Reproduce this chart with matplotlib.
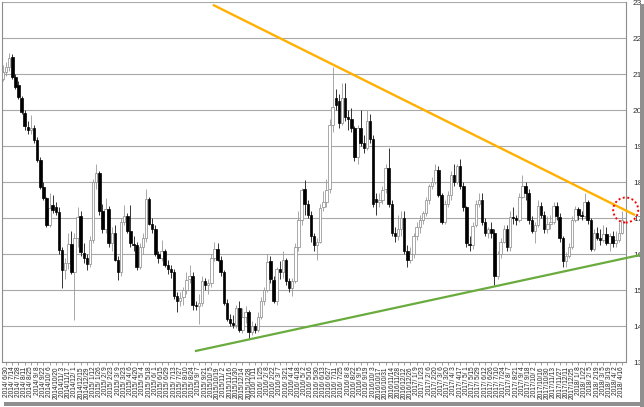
import matplotlib
matplotlib.use("Agg")
import matplotlib.pyplot as plt
from matplotlib.patches import Ellipse, Rectangle
import pandas as pd

# weekly candles, first week 2014/6/23 (labels start at 2014/6/30, every 2 weeks)
start_week = "2014-06-23"

opens = [20.87, 21.05, 21.20, 21.49, 20.93, 20.70, 20.33, 19.92, 19.55, 19.45,
         19.50, 19.18, 18.62, 17.88, 17.55, 16.81, 17.37, 17.32, 17.18, 16.12,
         15.55, 15.75, 16.30, 15.50, 16.45, 17.05, 16.05, 15.90, 15.72, 16.40,
         18.00, 18.25, 17.20, 16.70, 17.25, 16.30, 16.60, 15.85, 15.50, 16.90,
         17.05, 16.65, 16.30, 16.25, 15.66, 16.20, 16.45, 17.55, 16.85, 16.70,
         16.00, 15.90, 16.10, 15.70, 15.60, 15.50, 14.85, 14.70, 14.80, 15.00,
         15.30, 15.40, 14.60, 14.55, 14.65, 15.25, 15.15, 15.20, 15.90, 16.15,
         15.85, 15.50, 14.65, 14.20, 14.10, 14.05, 14.50, 13.90, 14.25, 14.40,
         13.85, 14.00, 13.90, 14.25, 14.70, 15.00, 15.80, 15.30, 14.70, 15.60,
         15.50, 15.85, 15.25, 15.05, 15.25, 16.20, 16.95, 17.80, 17.40, 17.10,
         16.50, 16.25, 16.35, 17.30, 17.45, 17.80, 19.60, 20.35, 20.25, 19.65,
         20.35, 19.80, 19.75, 19.50, 18.70, 19.50, 19.10, 18.95, 19.70, 19.20,
         17.55, 17.45, 17.50, 17.80, 18.40, 17.40, 16.60, 16.50, 16.70, 17.00,
         16.10, 15.85, 16.00, 16.50, 16.75, 16.95, 17.15, 17.50, 17.90, 18.00,
         18.35, 17.65, 16.90, 17.40, 17.65, 18.20, 18.00, 18.45, 17.90, 17.30,
         16.30, 16.25, 16.80, 17.40, 17.50, 16.90, 16.60, 16.70, 16.60, 15.40,
         16.00, 16.35, 16.70, 16.20, 17.05, 17.00, 16.95, 17.60, 17.90, 17.70,
         16.95, 16.65, 16.80, 17.35, 17.10, 16.70, 16.85, 16.90, 17.35, 17.05,
         16.45, 15.80, 15.95, 16.20, 16.95, 17.25, 17.10, 17.05, 17.45, 16.95,
         16.15, 16.60, 16.45, 16.40, 16.55, 16.30, 16.50, 16.30, 16.40, 16.60]

highs = [21.25, 21.35, 21.58, 21.55, 21.00, 20.80, 20.40, 20.00, 19.70, 19.87,
         19.60, 19.25, 18.70, 18.00, 17.60, 17.69, 17.65, 17.45, 17.30, 16.20,
         15.90, 16.60, 16.65, 16.60, 17.30, 17.20, 16.30, 16.00, 16.50, 18.10,
         18.51, 18.30, 17.40, 17.55, 17.35, 16.75, 16.80, 15.95, 17.00, 17.37,
         17.15, 17.37, 16.50, 16.35, 16.30, 16.60, 17.80, 17.60, 17.00, 16.80,
         16.10, 16.40, 16.15, 15.85, 15.70, 15.60, 14.95, 14.95, 15.10, 15.50,
         15.70, 15.50, 14.70, 14.90, 15.40, 15.35, 15.30, 16.00, 16.35, 16.30,
         15.95, 15.55, 14.75, 14.35, 14.30, 14.60, 14.70, 14.50, 14.55, 14.45,
         14.15, 14.10, 14.40, 14.80, 15.10, 16.00, 15.95, 15.40, 15.65, 15.80,
         16.10, 15.90, 15.35, 15.35, 16.30, 17.20, 17.85, 18.06, 17.50, 17.20,
         16.60, 16.45, 17.40, 17.75, 18.10, 19.75, 21.20, 20.60, 20.45, 20.75,
         20.75, 20.00, 20.05, 19.55, 19.60, 20.00, 19.30, 20.00, 19.90, 19.30,
         17.70, 17.70, 17.90, 18.50, 18.95, 17.50, 16.75, 17.10, 17.20, 17.20,
         16.25, 16.20, 16.60, 16.90, 17.10, 17.20, 17.60, 17.95, 18.15, 18.50,
         18.45, 17.70, 17.50, 17.75, 18.30, 18.50, 18.50, 18.65, 18.00, 17.35,
         16.50, 16.90, 17.50, 17.70, 17.70, 17.00, 16.75, 16.90, 16.70, 16.10,
         16.45, 16.80, 16.80, 17.20, 17.30, 17.10, 17.70, 18.20, 18.00, 17.80,
         17.05, 16.90, 17.50, 17.45, 17.20, 17.05, 17.10, 17.45, 17.45, 17.15,
         16.50, 16.05, 16.30, 17.05, 17.35, 17.30, 17.20, 17.70, 17.50, 17.00,
         16.70, 16.75, 16.70, 16.80, 16.75, 16.60, 16.65, 16.65, 16.90, 17.20]

lows = [20.80, 20.95, 21.10, 20.88, 20.60, 20.30, 19.90, 19.45, 19.35, 19.35,
        19.10, 18.55, 17.80, 17.50, 16.75, 16.75, 17.15, 17.10, 16.00, 15.06,
        15.30, 15.60, 15.45, 14.18, 16.20, 15.95, 15.75, 15.55, 15.65, 16.30,
        17.80, 17.10, 16.60, 16.60, 16.20, 16.10, 15.80, 15.29, 15.40, 16.80,
        16.60, 16.20, 16.10, 15.55, 15.60, 16.00, 16.35, 16.80, 16.60, 15.95,
        15.75, 15.80, 15.65, 15.45, 15.35, 14.75, 14.40, 14.55, 14.60, 14.90,
        15.20, 14.45, 14.45, 14.05, 14.55, 15.00, 14.90, 15.10, 15.80, 15.80,
        15.40, 14.60, 14.15, 14.00, 13.95, 13.95, 13.85, 13.80, 14.10, 13.65,
        13.75, 13.80, 13.85, 14.20, 14.60, 14.95, 15.20, 14.65, 14.60, 15.30,
        15.35, 15.15, 14.95, 14.85, 15.20, 16.10, 16.80, 17.10, 17.00, 16.35,
        16.10, 15.84, 16.30, 17.20, 17.30, 17.70, 19.40, 20.00, 19.50, 19.60,
        19.70, 19.45, 19.40, 18.60, 18.50, 19.00, 18.80, 18.90, 19.10, 17.30,
        17.10, 17.30, 17.40, 17.70, 17.30, 16.50, 16.35, 16.40, 16.50, 16.00,
        15.65, 15.75, 15.90, 16.40, 16.60, 16.85, 17.05, 17.40, 17.80, 17.95,
        17.60, 16.85, 16.85, 17.30, 17.50, 17.90, 17.95, 17.80, 17.20, 16.20,
        16.10, 16.15, 16.75, 17.30, 16.80, 16.50, 16.45, 16.45, 15.15, 15.30,
        15.90, 16.30, 16.10, 16.10, 16.85, 16.80, 16.90, 17.55, 17.50, 16.85,
        16.60, 16.30, 16.75, 17.00, 16.60, 16.60, 16.70, 16.85, 16.95, 16.35,
        15.65, 15.65, 15.90, 16.15, 16.90, 16.95, 16.95, 17.00, 16.85, 16.10,
        16.10, 16.40, 16.25, 16.35, 16.25, 16.10, 16.20, 16.20, 16.35, 16.55]

closes = [21.05, 21.20, 21.45, 20.93, 20.66, 20.38, 19.96, 19.55, 19.45, 19.50,
          19.18, 18.62, 17.88, 17.55, 16.81, 17.28, 17.23, 17.18, 16.12, 15.57,
          15.75, 16.30, 15.50, 16.45, 17.05, 16.05, 15.90, 15.72, 16.40, 18.00,
          18.25, 17.20, 16.70, 17.25, 16.30, 16.60, 15.85, 15.50, 16.90, 17.05,
          16.65, 16.30, 16.25, 15.66, 16.20, 16.45, 17.55, 16.85, 16.70, 16.00,
          15.90, 16.10, 15.70, 15.60, 15.50, 14.85, 14.70, 14.80, 15.00, 15.30,
          15.40, 14.60, 14.55, 14.65, 15.25, 15.15, 15.20, 15.90, 16.15, 15.85,
          15.50, 14.65, 14.20, 14.10, 14.05, 14.50, 13.90, 14.25, 14.40, 13.85,
          14.00, 13.90, 14.25, 14.70, 15.00, 15.80, 15.30, 14.70, 15.60, 15.50,
          15.85, 15.25, 15.05, 15.25, 16.20, 16.95, 17.80, 17.40, 17.10, 16.50,
          16.25, 16.35, 17.30, 17.45, 17.80, 19.60, 20.10, 20.15, 19.65, 20.35,
          19.80, 19.75, 19.50, 18.70, 19.50, 19.10, 18.95, 19.70, 19.20, 17.40,
          17.45, 17.50, 17.80, 18.40, 17.40, 16.60, 16.50, 16.70, 17.00, 16.10,
          15.85, 16.00, 16.50, 16.75, 16.95, 17.15, 17.50, 17.90, 18.00, 18.35,
          17.65, 16.90, 17.40, 17.65, 18.20, 18.00, 18.45, 17.90, 17.30, 16.30,
          16.25, 16.80, 17.40, 17.50, 16.90, 16.60, 16.70, 16.60, 15.40, 16.00,
          16.35, 16.70, 16.20, 17.05, 17.00, 16.95, 17.60, 17.90, 17.70, 16.95,
          16.65, 16.80, 17.35, 17.10, 16.70, 16.85, 16.90, 17.35, 17.05, 16.45,
          15.80, 15.95, 16.20, 16.95, 17.25, 17.10, 17.05, 17.45, 16.95, 16.15,
          16.60, 16.45, 16.40, 16.55, 16.30, 16.50, 16.30, 16.40, 16.60, 16.95]

# trend lines (candle index, price) and the marked spot
resist_x = [67.5, 203.2]
resist_y = [22.93, 17.09]
support_x = [61.7, 204.8]
support_y = [13.31, 15.98]
mark_x, mark_y = 200.2, 17.23

weeks = pd.date_range(start_week, periods=len(closes), freq="7D")
tick_pos = list(range(1, len(weeks), 2))
tick_labels = ["%d/%2d/%2d" % (weeks[i].year, weeks[i].month, weeks[i].day) for i in tick_pos]

plt.rcParams["font.family"] = ["Liberation Sans", "DejaVu Sans"]

W, H = 644, 407
fig = plt.figure(figsize=(W / 100, H / 100), dpi=100)
ax = fig.add_axes([2 / W, (H - 362.3) / H, 624 / W, 360 / H])

up_idx = [i for i in range(len(closes)) if closes[i] >= opens[i]]
dn_idx = [i for i in range(len(closes)) if closes[i] < opens[i]]

# wicks
ax.vlines(up_idx, [lows[i] for i in up_idx], [highs[i] for i in up_idx], color="#999999", lw=0.6, zorder=2)
ax.vlines(dn_idx, [lows[i] for i in dn_idx], [highs[i] for i in dn_idx], color="#333333", lw=0.7, zorder=2)

# bodies
def body(idx):
    bot = [min(opens[i], closes[i]) for i in idx]
    hgt = [max(abs(closes[i] - opens[i]), 0.03) for i in idx]
    return bot, hgt

b, h = body(up_idx)
ax.bar(up_idx, h, bottom=b, width=0.8, facecolor="white", edgecolor="#858585", lw=0.5, zorder=3)
b, h = body(dn_idx)
ax.bar(dn_idx, h, bottom=b, width=0.8, facecolor="black", edgecolor="black", lw=0.5, zorder=3)

ax.plot(resist_x, resist_y, color="#ffb000", lw=1.7, clip_on=False, zorder=4, solid_capstyle="butt")
ax.plot(support_x, support_y, color="#6aab3e", lw=1.6, clip_on=False, zorder=4, solid_capstyle="butt")
ax.add_patch(Ellipse((mark_x, mark_y), 25 / 3.11, 25 / 36, fill=False, ec="red",
                     ls=(0, (1, 1.3)), lw=1.4, clip_on=False, zorder=5))

ax.set_xlim(-0.3, 200.3)
ax.set_ylim(13, 23)
ax.set_yticks(range(13, 24))
ax.yaxis.tick_right()
ax.yaxis.grid(True, color="#a8a8a8", lw=0.8)
ax.set_axisbelow(True)
ax.tick_params(axis="y", length=0, pad=5, labelsize=6, labelcolor="#333333")
ax.set_xticks(tick_pos)
ax.set_xticklabels(tick_labels, rotation=90, fontsize=4.7, color="#222222")
ax.tick_params(axis="x", length=2, width=0.5, color="#777777", pad=1)
for s in ax.spines.values():
    s.set_color("#8c8c8c")
    s.set_linewidth(0.8)
ax.spines["top"].set_visible(False)

# drop shadow of the picture frame
fig.add_artist(Rectangle((640 / W, 0), 4 / W, (H - 4) / H, transform=fig.transFigure, color="#8f8f8f", lw=0))
fig.add_artist(Rectangle((4 / W, 1 / H), 640 / W, 4 / H, transform=fig.transFigure, color="#8f8f8f", lw=0))

fig.savefig("out.png", dpi=100)
